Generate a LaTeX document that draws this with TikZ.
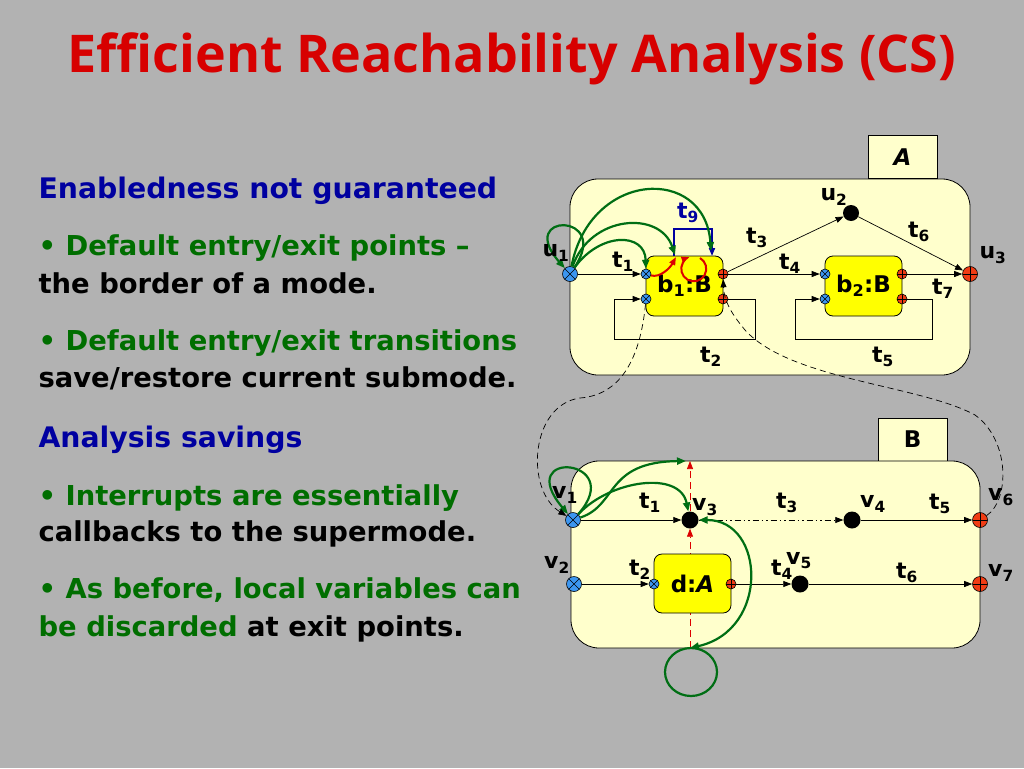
\documentclass[tikz,border=0pt]{standalone}
\usepackage{fontspec}
\setmainfont{DejaVu Sans}
\newfontfamily\titlefont{Open Sans}
\usepackage{tikz}
\usetikzlibrary{arrows.meta,positioning,calc}

\definecolor{bgGray}{RGB}{178,178,178}
\definecolor{titleRed}{RGB}{215,0,0}
\definecolor{headBlue}{RGB}{0,0,160}
\definecolor{txtGreen}{RGB}{0,110,0}
\definecolor{modeFill}{RGB}{255,255,204}
\definecolor{subFill}{RGB}{255,255,0}
\definecolor{entryBlue}{RGB}{60,150,240}
\definecolor{exitRed}{RGB}{240,60,20}
\definecolor{arcGreen}{RGB}{0,110,20}
\definecolor{arcRed}{RGB}{220,0,0}
\definecolor{arcBlue}{RGB}{0,0,160}

\newcommand{\tsub}[2]{#1\textsubscript{#2}}

\begin{document}
\begin{tikzpicture}[x=1pt, y=-1pt,
    mode/.style={draw, fill=modeFill, rounded corners=28pt, line width=0.8pt},
    tab/.style={draw, fill=modeFill, line width=0.8pt, minimum width=69pt, minimum height=43pt, font=\fontsize{23}{25}\selectfont\bfseries},
    submode/.style={draw, fill=subFill, rounded corners=8pt, line width=0.8pt, minimum width=77pt, minimum height=60pt, font=\fontsize{23}{25}\selectfont\bfseries},
    entry/.style={circle, draw, fill=entryBlue, inner sep=0pt, minimum size=15pt, line width=0.6pt,
        path picture={\draw[line width=0.6pt] (path picture bounding box.north west) -- (path picture bounding box.south east)
            (path picture bounding box.north east) -- (path picture bounding box.south west);}},
    exit/.style={circle, draw, fill=exitRed, inner sep=0pt, minimum size=15pt, line width=0.6pt,
        path picture={\draw[line width=0.6pt] (path picture bounding box.north) -- (path picture bounding box.south)
            (path picture bounding box.east) -- (path picture bounding box.west);}},
    port/.style={minimum size=10pt},
    dot/.style={circle, fill=black, inner sep=0pt, minimum size=17pt},
    arrow/.style={-{Triangle[length=8pt,width=6pt]}, line width=0.7pt},
    garrow/.style={-{Triangle[length=9pt,width=7pt]}, line width=2.2pt, arcGreen},
    rarrow/.style={-{Triangle[length=8pt,width=6pt]}, line width=2pt, arcRed},
    link/.style={-{Triangle[length=8pt,width=6pt]}, line width=0.7pt, dashed, dash pattern=on 6pt off 4pt},
    lbl/.style={font=\fontsize{22}{24}\selectfont\bfseries},
    head/.style={anchor=base west, text=headBlue, font=\fontsize{28.3}{31}\selectfont\bfseries},
    body/.style={anchor=base west, font=\fontsize{27.4}{30}\selectfont\bfseries}
]
    \useasboundingbox (0,0) rectangle (1024,768);
    \fill[bgGray] (0,0) rectangle (1024,768);

    % Title and text
    \node[anchor=base, text=titleRed, font=\titlefont\fontsize{52}{56}\selectfont\bfseries] (title) at (512,72) {Efficient Reachability Analysis (CS)};

    \node[head] (h1) at (35,198) {Enabledness not guaranteed};
    \node[body, text=txtGreen] (l1) at (35,255) {• Default entry/exit points –};
    \node[body] (l2) at (35,293) {the border of a mode.};
    \node[body, text=txtGreen] (l3) at (35,350) {• Default entry/exit transitions};
    \node[body] (l4) at (35,387) {save/restore current submode.};
    \node[head] (h2) at (35,447) {Analysis savings};
    \node[body, text=txtGreen] (l5) at (35,505) {• Interrupts are essentially};
    \node[body] (l6) at (35,541) {callbacks to the supermode.};
    \node[body, text=txtGreen] (l7) at (35,598) {• As before, local variables can};
    \node[body] (l8) at (35,636) {{\color{txtGreen}be discarded} at exit points.};

    % Mode A
    \node[tab] (tabA) at (902.5,157) {\textit{A}};
    \draw[mode] (570,179) rectangle (970,375);
    \node[submode] (b1) at (684.5,286) {\tsub{b}{1}:B};
    \node[submode] (b2) at (863.5,286) {\tsub{b}{2}:B};
    \node[entry, port] (b1in1) at (646,274) {};
    \node[entry, port] (b1in2) at (646,299) {};
    \node[exit, port] (b1out1) at (723,274) {};
    \node[exit, port] (b1out2) at (723,299) {};
    \node[entry, port] (b2in1) at (825,274) {};
    \node[entry, port] (b2in2) at (825,299) {};
    \node[exit, port] (b2out1) at (902,274) {};
    \node[exit, port] (b2out2) at (902,299) {};
    \node[entry] (u1) at (570,274) {};
    \node[dot, minimum size=16pt] (u2) at (851,213) {};
    \node[exit] (u3) at (970,274) {};

    \draw[arrow] (u1) -- (b1in1);
    \draw[arrow] (b1out2) -- (755,299) |- (614,339) |- (b1in2);
    \draw[arrow] (b1out1) -- (u2);
    \draw[arrow] (b1out1) -- (b2in1);
    \draw[arrow] (u2) -- (u3);
    \draw[arrow] (b2out1) -- (u3);
    \draw[arrow] (b2out2) -- (932,299) |- (795,339) |- (b2in2);
    \draw[arrow, arcBlue, line width=1.8pt] (674,256) -- (674,229) -- (712,229) -- (712,256);

    % default entry/exit arcs in A
    \draw[rarrow] (b1in1) .. controls (660,278) and (670,268) .. (676,257);
    \draw[rarrow] (700,258) arc (-60:250:12.5);
    \draw[garrow] (u1) .. controls (612,212) and (515,212) .. (u1);
    \draw[garrow] (u1) .. controls (600,232) and (645,232) .. (b1in1);
    \draw[garrow] (u1) .. controls (590,215) and (660,210) .. (675,255);
    \draw[garrow] (u1) .. controls (590,170) and (705,165) .. (711,251);

    \node[lbl] (lu1) at (556,253) {\tsub{u}{1}};
    \node[lbl] (lu2) at (834,197) {\tsub{u}{2}};
    \node[lbl] (lu3) at (993,255) {\tsub{u}{3}};
    \node[lbl] (lt1) at (623,262) {\tsub{t}{1}};
    \node[lbl, text=arcBlue] (lt9) at (688,213) {\tsub{t}{9}};
    \node[lbl] (lt3) at (757,238) {\tsub{t}{3}};
    \node[lbl] (lt4) at (790,264) {\tsub{t}{4}};
    \node[lbl] (lt6) at (919,232) {\tsub{t}{6}};
    \node[lbl] (lt7) at (943,289) {\tsub{t}{7}};
    \node[lbl] (lt2) at (711,357) {\tsub{t}{2}};
    \node[lbl] (lt5) at (883,357) {\tsub{t}{5}};

    % Mode B
    \node[tab] (tabB) at (912.5,439.5) {B};
    \draw[mode] (571,461) rectangle (980,648);
    \coordinate (Btop) at (690,461);
    \coordinate (Bbot) at (690,648);
    \node[entry] (v1) at (573,520) {};
    \node[entry] (v2) at (574,584) {};
    \node[dot] (v3) at (690,520) {};
    \node[dot] (v4) at (852,520) {};
    \node[dot] (v5) at (800,584) {};
    \node[exit] (v6) at (980,520) {};
    \node[exit] (v7) at (980,584) {};

    \draw[arrow, arcRed, dashed, dash pattern=on 7pt off 4pt] (Bbot) -- (v3);
    \draw[arrow, arcRed, dashed, dash pattern=on 7pt off 4pt] (v3) -- (Btop);
    \node[submode, minimum height=59pt] (d) at (692.5,583.5) {d:\textit{A}};
    \node[entry, port] (din) at (654,584) {};
    \node[exit, port] (dout) at (731,584) {};

    \draw[arrow] (v1) -- (v3);
    \draw[arrow, dash pattern=on 6pt off 3pt on 1.5pt off 3pt on 1.5pt off 3pt] (v3) -- (v4);
    \draw[arrow] (v4) -- (v6);
    \draw[arrow] (v2) -- (din);
    \draw[arrow] (dout) -- (v5);
    \draw[arrow] (v5) -- (v7);

    % interrupt arcs in B
    \draw[garrow] (v1) .. controls (628,458) and (512,448) .. (v1);
    \draw[garrow] (v1) .. controls (610,480) and (680,470) .. (v3);
    \draw[garrow] (v1) .. controls (618,505) and (605,462) .. (686,461);
    \draw[garrow, {Triangle[length=9pt,width=7pt]}-{Triangle[length=9pt,width=7pt]}] (Bbot) .. controls (770,630) and (765,520) .. (v3);
    \draw[arcGreen, line width=2.2pt] (691,672) ellipse (26 and 24);

    \node[lbl] (lv1) at (565,495) {\tsub{v}{1}};
    \node[lbl] (lv2) at (557,565) {\tsub{v}{2}};
    \node[lbl] (lv3) at (705,507) {\tsub{v}{3}};
    \node[lbl] (lv4) at (873,504) {\tsub{v}{4}};
    \node[lbl] (lv5) at (799,561) {\tsub{v}{5}};
    \node[lbl] (lv6) at (1001,497) {\tsub{v}{6}};
    \node[lbl] (lv7) at (1001,573) {\tsub{v}{7}};
    \node[lbl] (lt1b) at (650,503) {\tsub{t}{1}};
    \node[lbl] (lt3b) at (787,503) {\tsub{t}{3}};
    \node[lbl] (lt5b) at (940,504) {\tsub{t}{5}};
    \node[lbl] (lt2b) at (640,570) {\tsub{t}{2}};
    \node[lbl] (lt4b) at (782,570) {\tsub{t}{4}};
    \node[lbl] (lt6b) at (907,573) {\tsub{t}{6}};

    % mapping between A and B
    \draw[link] (b1in2) .. controls (640,360) and (620,395) .. (580,398) .. controls (530,405) and (525,490) .. (v1);
    \draw[link] (v6) .. controls (1010,500) and (1010,440) .. (975,415) .. controls (920,385) and (790,380) .. (745,330) .. controls (730,312) and (724,300) .. (b1out1);

\end{tikzpicture}
\end{document}
